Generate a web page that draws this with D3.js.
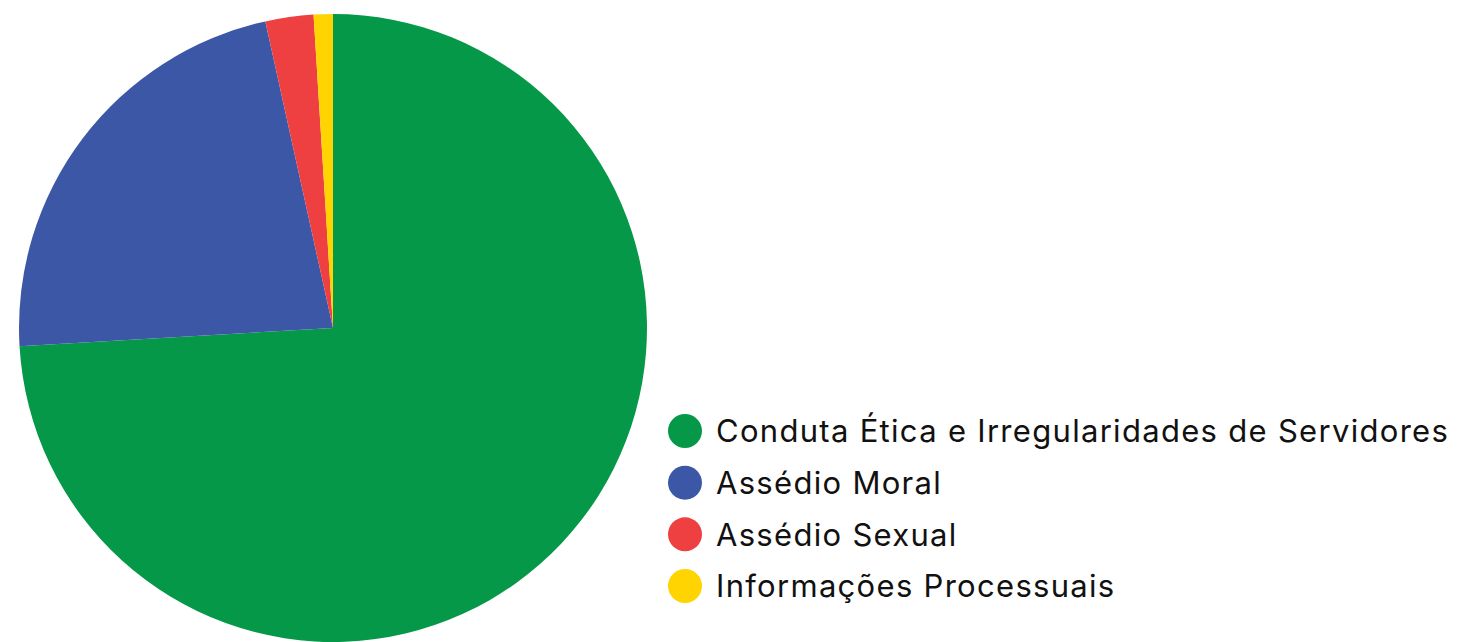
<!DOCTYPE html>
<html>
<head>
<meta charset="utf-8">
<script src="https://cdn.jsdelivr.net/npm/d3@7"></script>
<style>
  body { margin: 0; background: #fff; }
  .legend-text { font-family: "Inter", "Noto Sans", sans-serif; fill: #111; letter-spacing: 1.3px; }
</style>
</head>
<body>
<div class="chart"></div>
<script>
// data
var categories = ["Conduta Ética e Irregularidades de Servidores", "Assédio Moral", "Assédio Sexual", "Informações Processuais"];
var values = [300, 91, 10, 4];
var colors = ["#059848", "#3d57a7", "#ee4040", "#ffd400"];

var svgWidth = 1457;
var svgHeight = 642;

var svg = d3.select(".chart")
    .append("svg")
    .attr("width", svgWidth)
    .attr("height", svgHeight);

var radius = 314;
var cx = 333, cy = 328;

var pie = d3.pie().sort(null).value(function(d) { return d; });
var arc = d3.arc().innerRadius(0).outerRadius(radius);

var g = svg.append("g")
    .attr("transform", "translate(" + cx + "," + cy + ")");

g.selectAll("path")
    .data(pie(values))
    .enter()
    .append("path")
    .attr("d", arc)
    .style("fill", function(d, i) { return colors[i]; });

// legend
var legendY = d3.scalePoint()
    .domain(categories)
    .range([431, 586]);

var legend = svg.selectAll(".legend")
    .data(categories)
    .enter()
    .append("g")
    .attr("class", "legend")
    .attr("transform", function(d) { return "translate(685," + legendY(d) + ")"; });

legend.append("circle")
    .attr("r", 17)
    .style("fill", function(d, i) { return colors[i]; });

legend.append("text")
    .attr("class", "legend-text")
    .attr("x", 31)
    .attr("dy", "0.36em")
    .style("font-size", "31px")
    .text(function(d) { return d; });
</script>
</body>
</html>
